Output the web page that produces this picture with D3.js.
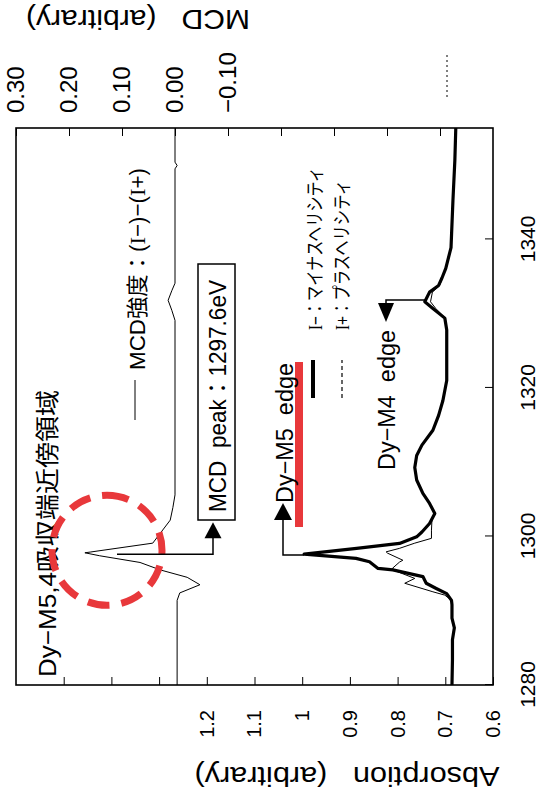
<!DOCTYPE html>
<html><head><meta charset="utf-8">
<script src="https://cdn.jsdelivr.net/npm/d3@7"></script>
<style>
html,body{margin:0;padding:0;background:#fff;}
svg{display:block;}
text{font-family:"Liberation Sans","Noto Sans CJK JP",sans-serif;fill:#000;}
</style></head><body>
<svg id="c" width="549" height="798"></svg>
<script>
// ---------- data ----------
const energyTicks = [1280, 1300, 1320, 1340];
const absTicks = [0.6, 0.7, 0.8, 0.9, 1.0, 1.1, 1.2, 1.3, 1.4, 1.5];
const absTickLabels = ["0.6", "0.7", "0.8", "0.9", "1", "1.1", "1.2", "", "", ""];
const mcdTicks = [-0.5, -0.4, -0.3, -0.2, -0.1, 0.0, 0.1, 0.2, 0.3];
const mcdTickLabels = ["", "", "", "", "\u22120.10", "0.00", "0.10", "0.20", "0.30"];

// I− (minus helicity, thick line)
const iMinusE = [1280.0, 1283.4, 1286.1, 1287.7, 1289.0, 1290.8, 1291.4, 1292.3, 1293.0, 1293.7, 1294.6, 1295.5, 1295.7, 1296.6, 1297.05, 1297.62,
  1298.4, 1299.06, 1299.95, 1300.6, 1301.75, 1303.1, 1304.45, 1305.8, 1307.6, 1309.3, 1310.9, 1312.3, 1314.3, 1316.3, 1318.3, 1321.0,
  1325.1, 1327.8, 1329.4, 1330.7, 1331.6, 1332.9, 1333.8, 1334.8, 1336.1, 1338.9, 1345.2, 1350.6, 1355.0];
const iMinusA = [0.686, 0.685, 0.685, 0.681, 0.686, 0.686, 0.687, 0.697, 0.719, 0.740, 0.747, 0.810, 0.841, 0.859, 0.887, 0.996,
  0.886, 0.796, 0.760, 0.749, 0.733, 0.722, 0.733, 0.747, 0.760, 0.764, 0.760, 0.749, 0.726, 0.714, 0.705, 0.697,
  0.697, 0.697, 0.701, 0.726, 0.743, 0.733, 0.714, 0.707, 0.699, 0.688, 0.684, 0.680, 0.678];

// I+ (plus helicity, thin line)
const iPlusE = [1280.0, 1283.4, 1286.1, 1287.7, 1289.0, 1290.8, 1291.4, 1292.1, 1292.55, 1293.7, 1294.35, 1295.3, 1295.7, 1296.55, 1296.8,
  1297.75, 1297.93, 1298.4, 1299.1, 1299.75, 1300.85, 1302.2, 1303.1, 1304.45, 1305.8, 1307.6, 1309.3, 1310.9, 1312.3, 1314.3, 1316.3,
  1318.3, 1321.0, 1325.1, 1327.8, 1329.4, 1330.7, 1331.6, 1332.9, 1333.8, 1334.8, 1336.1, 1338.9, 1345.2, 1350.6, 1355.0];
const iPlusA = [0.686, 0.685, 0.685, 0.682, 0.686, 0.686, 0.687, 0.701, 0.726, 0.785, 0.764, 0.802, 0.811, 0.796, 0.789,
  0.821, 0.824, 0.796, 0.764, 0.729, 0.729, 0.728, 0.722, 0.733, 0.747, 0.760, 0.764, 0.760, 0.749, 0.726, 0.714,
  0.705, 0.697, 0.697, 0.697, 0.700, 0.720, 0.731, 0.727, 0.712, 0.706, 0.699, 0.688, 0.684, 0.680, 0.678];

// MCD = (I−) − (I+)
const mcdE = [1280.0, 1291.4, 1292.4, 1293.5, 1294.5, 1295.5, 1296.5, 1297.4, 1297.8, 1297.9, 1299.1, 1302.2, 1303.9, 1305.6,
  1329.1, 1330.45, 1331.8, 1333.1, 1334.1, 1349.5, 1349.95, 1350.4, 1355.0];
const mcdV = [-0.004, -0.004, -0.009, -0.047, -0.023, 0.028, 0.066, 0.142, 0.170, 0.160, 0.042, 0.009, 0.004, 0.000,
  0.000, 0.006, 0.013, 0.006, 0.000, 0.000, -0.004, 0.000, 0.000];

const mcdPeakEnergy = 1297.6;

// ---------- layout ----------
const svg = d3.select("#c");
const W = 557, H = 477;       // plot in un-rotated orientation
const ox = 16, oy = 685;      // bottom-left corner of the frame on screen
const RED = "#e8383b";
const FONT = '"Liberation Sans","Noto Sans CJK JP",sans-serif';
const SERIF = '"Liberation Serif","DejaVu Serif",serif';

const x = d3.scaleLinear().domain([1280, 1355]).range([0, W]);
const yA = d3.scaleLinear().domain([0.6, 1.6]).range([H, 0]);
const yM = d3.scaleLinear().domain([-0.6, 0.3]).range([H, 0]);

const g = svg.append("g").attr("transform", `translate(${ox},${oy}) rotate(-90)`);

g.append("clipPath").attr("id", "clip").append("rect").attr("width", W).attr("height", H);

// axes
function styleAxis(sel, fs) {
  sel.attr("font-family", FONT).attr("font-size", fs);
  sel.select(".domain").remove();
  sel.selectAll(".tick line").attr("stroke", "#000").attr("stroke-width", 1);
}
const gx = g.append("g").attr("transform", `translate(0,${H})`)
  .call(d3.axisBottom(x).tickValues(energyTicks).tickSizeInner(-8).tickSizeOuter(0).tickPadding(27).tickFormat(d3.format("d")));
styleAxis(gx, 21);
const ga = g.append("g")
  .call(d3.axisLeft(yA).tickValues(absTicks).tickSizeInner(-8).tickSizeOuter(0).tickPadding(25).tickFormat((d, i) => absTickLabels[i]));
styleAxis(ga, 20);
const gm = g.append("g").attr("transform", `translate(${W},0)`)
  .call(d3.axisRight(yM).tickValues(mcdTicks).tickSizeInner(-8).tickSizeOuter(0).tickPadding(15).tickFormat((d, i) => mcdTickLabels[i]));
styleAxis(gm, 24);

// frame
g.append("rect").attr("width", W).attr("height", H).attr("fill", "none").attr("stroke", "#000").attr("stroke-width", 1.6);

// curves
const plot = g.append("g").attr("clip-path", "url(#clip)");
const lineA = d3.line().x(d => x(d[0])).y(d => yA(d[1]));
const lineM = d3.line().x(d => x(d[0])).y(d => yM(d[1]));
plot.append("path").datum(mcdE.map((e, i) => [e, mcdV[i]])).attr("d", lineM)
  .attr("fill", "none").attr("stroke", "#000").attr("stroke-width", 1);
plot.append("path").datum(iPlusE.map((e, i) => [e, iPlusA[i]])).attr("d", lineA)
  .attr("fill", "none").attr("stroke", "#000").attr("stroke-width", 1);
plot.append("path").datum(iMinusE.map((e, i) => [e, iMinusA[i]])).attr("d", lineA)
  .attr("fill", "none").attr("stroke", "#000").attr("stroke-width", 3.2).attr("stroke-linejoin", "round");

// helper for text in plot (un-rotated coordinates); parts: [text, serif?]
function label(parts, u, v, fs, len) {
  const t = g.append("text").attr("x", u).attr("y", v).attr("font-size", fs)
    .attr("dominant-baseline", "central");
  parts.forEach(p => {
    const s = t.append("tspan").text(p[0]);
    if (p[1]) s.attr("font-family", SERIF);
  });
  if (len) t.attr("textLength", len).attr("lengthAdjust", "spacingAndGlyphs");
  return t;
}

// title in plot
label([["Dy\u2212M5,4吸収端近傍領域"]], 8, 31, 24, 287);

// MCD legend
g.append("line").attr("x1", 265).attr("x2", 305).attr("y1", 119).attr("y2", 119).attr("stroke", "#000").attr("stroke-width", 1);
label([["MCD強度：("], ["I", 1], ["\u2212)\u2212("], ["I", 1], ["+)"]], 315, 121, 22, 202);

// red dashed circle around MCD peak
g.append("circle").attr("cx", x(mcdPeakEnergy) + 4).attr("cy", 91).attr("r", 55)
  .attr("fill", "none").attr("stroke", RED).attr("stroke-width", 7).attr("stroke-dasharray", "22 12");

// MCD peak box + arrow
g.append("rect").attr("x", 165).attr("y", 182).attr("width", 256).attr("height", 37)
  .attr("fill", "#fff").attr("stroke", "#000").attr("stroke-width", 1.5);
label([["MCD\u00a0\u00a0peak：1297.6eV"]], 173, 201, 24, 232);
const pu = x(mcdPeakEnergy);
g.append("polyline").attr("points", `${pu},101 ${pu},197 ${pu + 17},197`).attr("fill", "none").attr("stroke", "#000").attr("stroke-width", 1.5);
g.append("polygon").attr("points", `${pu + 16},188.5 ${pu + 16},205.5 ${pu + 32},197`).attr("fill", "#000");

// Dy-M5 edge
g.append("rect").attr("x", 158).attr("y", 279).attr("width", 165).attr("height", 8).attr("fill", RED);
label([["Dy\u2212M5\u00a0\u00a0edge"]], 182, 269, 23, 140);
g.append("polyline").attr("points", `130,288 130,267 166,267`).attr("fill", "none").attr("stroke", "#000").attr("stroke-width", 1.5);
g.append("polygon").attr("points", `165,258 165,276 182,267`).attr("fill", "#000");

// legend I- / I+
g.append("line").attr("x1", 287).attr("x2", 325).attr("y1", 297).attr("y2", 297).attr("stroke", "#000").attr("stroke-width", 4);
g.append("line").attr("x1", 287).attr("x2", 325).attr("y1", 326).attr("y2", 326).attr("stroke", "#000").attr("stroke-width", 1.2).attr("stroke-dasharray", "4 3");
label([["I", 1], ["\u2212：マイナスヘリシティ"]], 355, 299, 19, 163);
label([["I", 1], ["+：プラスヘリシティ"]], 355, 326, 19, 150);

// Dy-M4 edge
label([["Dy\u2212M4\u00a0\u00a0edge"]], 215, 371, 23, 140);
g.append("polyline").attr("points", `385,409 385,370 381,370`).attr("fill", "none").attr("stroke", "#000").attr("stroke-width", 1.5);
g.append("polygon").attr("points", `382,362 382,378 363,370`).attr("fill", "#000");

// small dotted mark above plot
g.append("line").attr("x1", 588).attr("x2", 632).attr("y1", 431).attr("y2", 431).attr("stroke", "#000").attr("stroke-width", 1).attr("stroke-dasharray", "2 3");

// axis titles (upside down)
svg.append("text").attr("transform", "translate(347,776) rotate(180)").attr("text-anchor", "middle")
  .attr("dominant-baseline", "central").attr("font-size", 28)
  .attr("textLength", 305).attr("lengthAdjust", "spacingAndGlyphs")
  .text("Absorption\u00a0\u00a0\u00a0(arbitrary)");
svg.append("text").attr("transform", "translate(138,19) rotate(180)").attr("text-anchor", "middle")
  .attr("dominant-baseline", "central").attr("font-size", 28)
  .attr("textLength", 224).attr("lengthAdjust", "spacingAndGlyphs")
  .text("MCD\u00a0\u00a0\u00a0(arbitrary)");
</script>
</body></html>
